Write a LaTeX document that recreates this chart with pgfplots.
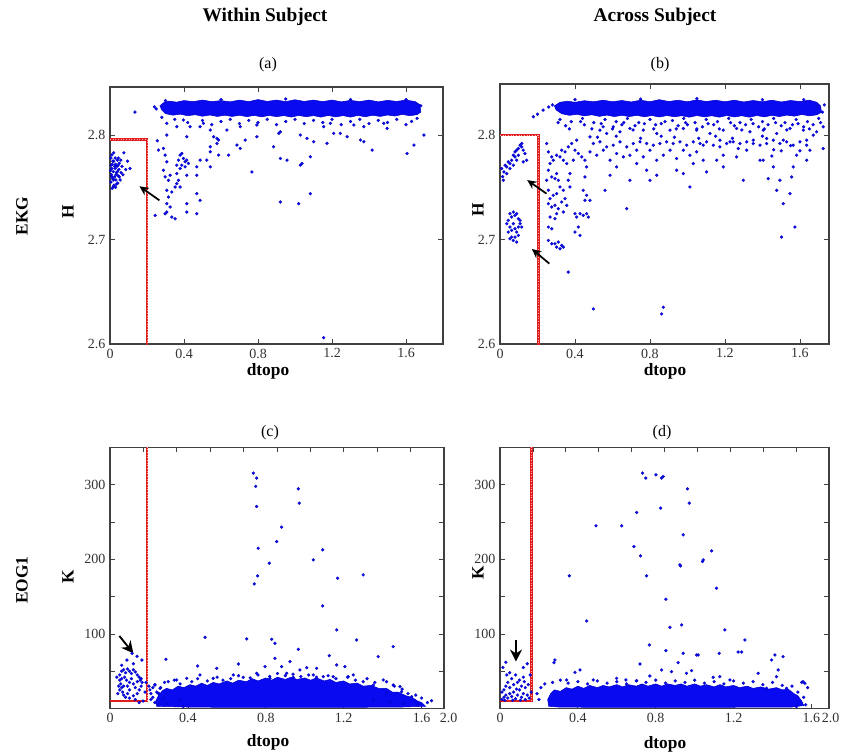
\documentclass[border=0pt]{standalone}
\usepackage{fontspec}
\setmainfont{Liberation Serif}
\usepackage{pgfplots}
\pgfplotsset{compat=1.18}
\usetikzlibrary{arrows.meta}

\definecolor{boxred}{RGB}{225,30,30}
\definecolor{dotblue}{RGB}{10,10,240}

\tikzset{
  pointer/.style={black, line width=1.3pt, -{Stealth[length=7pt,width=6.5pt]}},
  bigpointer/.style={black, line width=1.4pt, -{Stealth[length=9pt,width=9pt]}},
}

\pgfplotsset{
  panel/.style={
    anchor=south west, scale only axis, clip=true,
    axis line style={black!75, line width=0.8pt},
    tick style={black!75, line width=0.6pt},
    tick align=inside, major tick length=3.5pt,
    tick label style={font=\fontsize{10.5}{12}\selectfont, text=black!80},
    /pgf/number format/assume math mode=true,
  },
  endlabel/.style 2 args={extra x ticks={#1}, extra x tick labels={2.0},
    extra x tick style={xticklabel style={xshift=#2}}},
  dots/.style={only marks, mark=*, mark size=1.15pt,
    mark options={draw=blue!70!black, fill=dotblue, line width=0.15pt}},
  band/.style={draw=blue!80!black, line width=0.4pt, fill=dotblue},
  boxbase/.style={boxred, line width=2pt, no marks},
  boxdots/.style={red!30!white, line width=0.6pt, dash pattern=on 0.7pt off 1.3pt, no marks},
  topticks/.style={
    anchor=south west, scale only axis,
    xmin=0, xmax=10, ymin=0, ymax=1,
    xtick={1,2,3,4,5,6,7,8,9}, xticklabels={}, xtick pos=right,
    ytick=\empty, axis line style={draw=none},
    tick style={black!75, line width=0.6pt},
    tick align=inside, major tick length=3.5pt,
  },
}

\newcommand{\lbl}[1]{\fontsize{13}{15}\selectfont\bfseries #1}

\begin{document}
\begin{tikzpicture}
\useasboundingbox (0,0) rectangle (630.75pt,563.25pt);

% column and row headings
\node at (198.75pt,550.5pt) {\fontsize{14.5}{16}\selectfont\bfseries Within Subject};
\node at (491.25pt,550.5pt) {\fontsize{14.5}{16}\selectfont\bfseries Across Subject};
\node[rotate=90] at (16.5pt,401.25pt) {\lbl{EKG}};
\node[rotate=90] at (16.5pt,128.25pt) {\lbl{EOG1}};
\node at (201pt,515pt) {\fontsize{12}{14}\selectfont (a)};
\node at (495pt,515pt) {\fontsize{12}{14}\selectfont (b)};
\node at (202.5pt,239pt) {\fontsize{12}{14}\selectfont (c)};
\node at (496.5pt,239pt) {\fontsize{12}{14}\selectfont (d)};
\node[rotate=90] at (51pt,404.25pt) {\lbl{H}};
\node[rotate=90] at (358.5pt,405.75pt) {\lbl{H}};
\node[rotate=90] at (51pt,130.5pt) {\lbl{K}};
\node[rotate=90] at (358.5pt,133.5pt) {\lbl{K}};
\node at (201pt,284.5pt) {\lbl{dtopo}};
\node at (498.75pt,284.5pt) {\lbl{dtopo}};
\node at (201pt,6.5pt) {\lbl{dtopo}};
\node at (498.75pt,5pt) {\lbl{dtopo}};

% ---------------- (a) EKG, within subject ----------------
\begin{axis}[panel, at={(82.5pt,305.25pt)}, width=249.75pt, height=192.75pt,
  xmin=0, xmax=1.8, ymin=2.6, ymax=2.846,
  xtick={0,0.4,0.8,1.2,1.6}, xticklabels={0,0.4,0.8,1.2,1.6},
  ytick={2.6,2.7,2.8}, yticklabels={2.6,2.7,2.8}]
\addplot[band] coordinates {(0.27,2.828) (0.29,2.831) (0.32,2.8325) (0.36,2.8315) (0.4,2.833)
  (0.45,2.832) (0.5,2.8335) (0.55,2.832) (0.6,2.833) (0.65,2.8318) (0.7,2.8335) (0.75,2.832)
  (0.8,2.834) (0.85,2.8322) (0.9,2.8335) (0.95,2.832) (1.0,2.8338) (1.05,2.8322) (1.1,2.8335)
  (1.15,2.832) (1.2,2.8335) (1.25,2.8318) (1.3,2.8332) (1.35,2.832) (1.4,2.8335) (1.45,2.8318)
  (1.5,2.8332) (1.55,2.8322) (1.6,2.8335) (1.65,2.832) (1.675,2.829) (1.68,2.822)
  (1.66,2.8195) (1.62,2.8185) (1.58,2.8198) (1.54,2.8182) (1.5,2.8192) (1.46,2.8178)
  (1.42,2.819) (1.38,2.8175) (1.34,2.8188) (1.3,2.8172) (1.26,2.8186) (1.22,2.8174)
  (1.18,2.8188) (1.14,2.8172) (1.1,2.8186) (1.06,2.8175) (1.02,2.8188) (0.98,2.8172)
  (0.94,2.8186) (0.9,2.8176) (0.86,2.8188) (0.82,2.8174) (0.78,2.8188) (0.74,2.8176)
  (0.7,2.819) (0.66,2.8178) (0.62,2.819) (0.58,2.8178) (0.54,2.8192) (0.5,2.818)
  (0.46,2.8195) (0.42,2.8185) (0.38,2.82) (0.34,2.819) (0.3,2.8205) (0.28,2.824)} -- cycle;
\addplot[dots] coordinates {
  (0.005,2.755) (0.008,2.762) (0.01,2.768) (0.012,2.772) (0.015,2.758) (0.018,2.765)
  (0.02,2.775) (0.022,2.752) (0.025,2.760) (0.028,2.768) (0.03,2.772) (0.032,2.757)
  (0.035,2.764) (0.038,2.770) (0.04,2.776) (0.042,2.754) (0.045,2.761) (0.048,2.767)
  (0.05,2.773) (0.012,2.749) (0.018,2.751) (0.03,2.750) (0.005,2.778) (0.01,2.781)
  (0.02,2.783) (0.075,2.783) (0.065,2.770) (0.07,2.762) (0.085,2.767) (0.055,2.757)
  (0.06,2.764) (0.045,2.778) (0.035,2.753) (0.025,2.770) (0.015,2.775) (0.003,2.766)
  (0.006,2.771) (0.04,2.765) (0.05,2.76) (0.058,2.776) (0.028,2.778) (0.033,2.762)
  (0.043,2.771) (0.02,2.757) (0.01,2.760) (0.108,2.768) (0.095,2.775)
  (0.135,2.822) (0.24,2.827) (0.25,2.825)
  (0.256,2.7945) (0.262,2.7856) (0.289,2.7872) (0.298,2.7808) (0.307,2.7744) (0.289,2.7663)
  (0.298,2.760) (0.316,2.7567) (0.325,2.7615) (0.307,2.7471) (0.316,2.7407) (0.307,2.7343)
  (0.325,2.7311) (0.307,2.7263) (0.298,2.7247) (0.334,2.7215) (0.352,2.7199) (0.244,2.7231)
  (0.361,2.7712) (0.370,2.776) (0.379,2.7808) (0.388,2.7824) (0.397,2.7776) (0.406,2.7744)
  (0.415,2.776) (0.424,2.7728) (0.406,2.7696) (0.388,2.7712) (0.379,2.768) (0.361,2.7631)
  (0.370,2.7567) (0.361,2.7535) (0.379,2.7503) (0.352,2.7503) (0.334,2.7455) (0.415,2.7615)
  (0.469,2.7696) (0.469,2.7615) (0.469,2.7439) (0.487,2.7375) (0.469,2.7247) (0.415,2.7343)
  (0.415,2.7263) (0.487,2.776) (0.542,2.784) (0.542,2.7888) (0.560,2.7984) (0.578,2.7968)
  (0.587,2.7952) (0.578,2.792) (0.523,2.776) (0.542,2.7696) (0.587,2.7808) (0.641,2.7808)
  (0.686,2.7904) (0.704,2.7872) (0.731,2.7952) (0.794,2.7984) (0.884,2.7888) (0.912,2.8016)
  (0.921,2.7776) (0.957,2.776) (1.029,2.7712) (1.038,2.7728) (0.767,2.7647) (0.921,2.7359)
  (1.020,2.7343) (1.083,2.7439) (1.083,2.7792) (1.173,2.792) (1.155,2.808) (1.209,2.8016)
  (1.245,2.8016) (1.282,2.7984) (1.354,2.7952) (1.372,2.7936) (1.417,2.7856) (1.498,2.8064)
  (1.606,2.7824) (1.643,2.7904) (1.697,2.80) (0.307,2.8112) (0.307,2.80) (0.415,2.7984)
  (0.433,2.808) (0.487,2.808) (0.542,2.8048) (0.632,2.8048) (0.704,2.808) (0.794,2.8096)
  (0.921,2.8032) (1.029,2.80) (1.065,2.7968) (1.101,2.7936) (1.191,2.8112) (1.318,2.8096)
  (1.372,2.808) (1.480,2.8112) (0.361,2.808) (0.397,2.8144) (0.505,2.8112)
  (1.155,2.606)
  (0.35,2.815) (0.42,2.812) (0.5,2.814) (0.55,2.81) (0.6,2.813) (0.65,2.815) (0.7,2.811)
  (0.75,2.814) (0.8,2.812) (0.85,2.815) (0.9,2.81) (0.95,2.813) (1.0,2.815) (1.05,2.811)
  (1.1,2.814) (1.15,2.812) (1.2,2.815) (1.25,2.81) (1.3,2.813) (1.35,2.815) (1.4,2.811)
  (1.45,2.814) (1.5,2.812) (1.55,2.815) (1.6,2.81) (1.63,2.813) (1.66,2.816)
  (0.3,2.833) (0.6,2.834) (0.95,2.8345) (1.3,2.834) (1.6,2.834) (1.68,2.828) (0.28,2.817)
};
\addplot[boxbase] coordinates {(0,2.796) (0.2,2.796) (0.2,2.59)};
\addplot[boxdots] coordinates {(0,2.796) (0.2,2.796) (0.2,2.59)};
\draw[pointer] (0.267,2.7375) -- (0.159,2.751);
\end{axis}

% ---------------- (b) EKG, across subject ----------------
\begin{axis}[panel, at={(375pt,305.25pt)}, width=246.75pt, height=195pt,
  xmin=0, xmax=1.755, ymin=2.6, ymax=2.849,
  xtick={0,0.4,0.8,1.2,1.6}, xticklabels={0,0.4,0.8,1.2,1.6},
  ytick={2.6,2.7,2.8}, yticklabels={2.6,2.7,2.8}]
\addplot[band] coordinates {(0.29,2.828) (0.32,2.8315) (0.36,2.8325) (0.4,2.8315) (0.45,2.833)
  (0.5,2.832) (0.55,2.8335) (0.6,2.832) (0.65,2.8332) (0.7,2.8318) (0.75,2.8335) (0.8,2.832)
  (0.85,2.834) (0.9,2.8322) (0.95,2.8335) (1.0,2.832) (1.05,2.8338) (1.1,2.8322) (1.15,2.8335)
  (1.2,2.832) (1.25,2.8335) (1.3,2.8318) (1.35,2.8332) (1.4,2.832) (1.45,2.8335) (1.5,2.8318)
  (1.55,2.8332) (1.6,2.8322) (1.65,2.8335) (1.69,2.8315) (1.71,2.828) (1.715,2.822)
  (1.69,2.8195) (1.65,2.8185) (1.61,2.8198) (1.57,2.8182) (1.53,2.8192) (1.49,2.8178)
  (1.45,2.819) (1.41,2.8175) (1.37,2.8188) (1.33,2.8172) (1.29,2.8186) (1.25,2.8174)
  (1.21,2.8188) (1.17,2.8172) (1.13,2.8186) (1.09,2.8175) (1.05,2.8188) (1.01,2.8172)
  (0.97,2.8186) (0.93,2.8176) (0.89,2.8188) (0.85,2.8174) (0.81,2.8188) (0.77,2.8176)
  (0.73,2.819) (0.69,2.8178) (0.65,2.819) (0.61,2.8178) (0.57,2.8192) (0.53,2.818)
  (0.49,2.8195) (0.45,2.8185) (0.41,2.82) (0.37,2.819) (0.33,2.8205) (0.3,2.824)} -- cycle;
\addplot[dots] coordinates {
  (0.009,2.768) (0.014,2.7603) (0.021,2.7648) (0.027,2.7712) (0.036,2.7696) (0.044,2.7744)
  (0.053,2.7728) (0.062,2.776) (0.071,2.7808) (0.08,2.784) (0.089,2.7856) (0.098,2.7872)
  (0.107,2.7904) (0.116,2.7888) (0.124,2.7856) (0.133,2.7824) (0.08,2.7792) (0.089,2.776)
  (0.053,2.768) (0.036,2.7632) (0.018,2.7568) (0.116,2.792) (0.142,2.776) (0.124,2.7744)
  (0.071,2.7712) (0.098,2.7808)
  (0.044,2.7184) (0.053,2.7248) (0.062,2.7216) (0.071,2.7264) (0.08,2.7232) (0.089,2.7248)
  (0.098,2.72) (0.107,2.7184) (0.053,2.712) (0.062,2.7088) (0.071,2.7152) (0.08,2.7104)
  (0.089,2.7072) (0.098,2.712) (0.107,2.7152) (0.044,2.7072) (0.062,2.7024) (0.071,2.6992)
  (0.08,2.7024) (0.089,2.6976) (0.053,2.7008) (0.098,2.704) (0.036,2.7152) (0.116,2.712)
  (0.178,2.8176) (0.2,2.82) (0.23,2.824) (0.26,2.827) (0.28,2.829)
  (0.249,2.792) (0.258,2.784) (0.276,2.7792) (0.284,2.776) (0.267,2.7728) (0.258,2.7664)
  (0.276,2.76) (0.293,2.7584) (0.302,2.7632) (0.311,2.7568) (0.32,2.7504) (0.338,2.7472)
  (0.302,2.744) (0.284,2.7424) (0.267,2.7392) (0.258,2.7344) (0.276,2.7312) (0.293,2.7328)
  (0.311,2.7296) (0.329,2.736) (0.347,2.7392) (0.356,2.7328) (0.338,2.7264) (0.302,2.7248)
  (0.293,2.72) (0.258,2.712) (0.276,2.7104) (0.258,2.6992) (0.276,2.696) (0.293,2.696)
  (0.311,2.6976) (0.329,2.6944) (0.338,2.6928) (0.32,2.6912) (0.302,2.6928) (0.267,2.7216)
  (0.258,2.7472) (0.249,2.7568) (0.373,2.7504) (0.364,2.7568) (0.373,2.7632) (0.356,2.7728)
  (0.338,2.776) (0.32,2.7792) (0.302,2.7808) (0.329,2.7856) (0.347,2.784) (0.364,2.7888)
  (0.382,2.792) (0.40,2.7856) (0.418,2.7824) (0.436,2.7792) (0.453,2.776) (0.462,2.7696)
  (0.453,2.76) (0.444,2.7472) (0.462,2.7424) (0.453,2.7376) (0.48,2.7376) (0.40,2.7248)
  (0.409,2.7216) (0.427,2.7248) (0.444,2.7232) (0.462,2.7248) (0.471,2.7216) (0.418,2.712)
  (0.40,2.7072) (0.427,2.704) (0.364,2.6688) (0.498,2.6336) (0.676,2.7296) (0.80,2.7568)
  (0.836,2.7616) (0.871,2.6352) (0.862,2.6288) (0.942,2.7664) (1.031,2.7728) (1.102,2.7648)
  (1.156,2.776) (1.191,2.7808) (1.262,2.7792) (1.316,2.7856) (1.387,2.776) (1.404,2.776)
  (1.431,2.7584) (1.458,2.7696) (1.511,2.7344) (1.573,2.712) (1.547,2.744) (1.556,2.76)
  (1.582,2.7808) (1.653,2.7856) (1.724,2.7872) (1.502,2.7024) (1.564,2.7696) (1.636,2.7952)
  (1.511,2.7952) (1.422,2.7968) (1.351,2.792) (1.271,2.7872) (1.227,2.7936) (1.173,2.7888)
  (1.084,2.7904) (1.049,2.784) (1.013,2.7808) (0.978,2.7856) (0.942,2.7776) (0.907,2.7856)
  (0.871,2.7808) (0.836,2.776) (0.80,2.7856) (0.764,2.7792) (0.729,2.7856) (0.693,2.7808)
  (0.658,2.7792) (0.622,2.7824) (0.587,2.776) (0.551,2.7856) (0.516,2.7808) (0.48,2.784)
  (0.498,2.792) (0.533,2.7936) (0.569,2.7888) (0.604,2.7904) (0.64,2.7936) (0.676,2.7888)
  (0.711,2.792) (0.747,2.7936) (0.782,2.792) (0.818,2.7904) (0.853,2.792) (0.889,2.7936)
  (0.924,2.792) (0.96,2.7936) (0.996,2.7904) (1.031,2.7936) (1.067,2.792) (1.102,2.7936)
  (1.138,2.7904) (1.173,2.7952) (1.209,2.792) (1.244,2.7936) (1.28,2.792) (1.316,2.7936)
  (1.351,2.7952) (1.387,2.7904) (1.422,2.792) (1.458,2.7952) (1.493,2.792) (1.529,2.7936)
  (1.564,2.7904) (1.60,2.7936) (1.636,2.7904) (1.671,2.80)
  (0.533,2.8048) (0.569,2.8016) (0.604,2.808) (0.64,2.8032) (0.693,2.8064) (0.764,2.8048)
  (0.836,2.8016) (0.907,2.8048) (0.978,2.8064) (1.049,2.8048) (1.12,2.8016) (1.191,2.8048)
  (1.262,2.8064) (1.333,2.8032) (1.404,2.8048) (1.476,2.8016) (1.547,2.8064) (1.618,2.8048)
  (1.689,2.8032) (1.724,2.808)
  (0.48,2.7984) (0.409,2.7952) (0.391,2.776) (0.622,2.7696) (0.729,2.7728) (0.782,2.7664)
  (0.978,2.7632) (1.084,2.776) (1.191,2.7696) (1.298,2.7568) (1.476,2.7472) (1.636,2.776)
  (0.693,2.7568) (0.587,2.7616) (0.56,2.7472) (1.013,2.7504) (1.493,2.7568)
  (0.32,2.815) (0.38,2.813) (0.44,2.816) (0.5,2.812) (0.56,2.815) (0.62,2.813) (0.68,2.816)
  (0.74,2.812) (0.8,2.815) (0.86,2.811) (0.92,2.814) (0.98,2.816) (1.04,2.812) (1.1,2.815)
  (1.16,2.813) (1.22,2.816) (1.28,2.812) (1.34,2.815) (1.4,2.813) (1.46,2.816) (1.52,2.812)
  (1.58,2.815) (1.64,2.813) (1.7,2.816) (1.72,2.822) (1.69,2.827) (1.73,2.829)
  (0.35,2.809) (0.45,2.81) (0.55,2.808) (0.65,2.81) (0.72,2.809) (0.83,2.81) (0.95,2.809)
  (1.0,2.81) (1.08,2.808) (1.14,2.81) (1.25,2.809) (1.31,2.81) (1.38,2.808) (1.43,2.81)
  (1.5,2.809) (1.56,2.81) (1.62,2.808) (1.67,2.81)
  (0.31,2.812) (0.37,2.806) (0.43,2.813) (0.49,2.806) (0.54,2.811) (0.6,2.806) (0.66,2.812)
  (0.71,2.805) (0.77,2.811) (0.82,2.806) (0.88,2.813) (0.94,2.806) (0.99,2.812) (1.05,2.806)
  (1.11,2.811) (1.17,2.806) (1.23,2.812) (1.29,2.805) (1.35,2.811) (1.41,2.806) (1.47,2.812)
  (1.53,2.805) (1.59,2.811) (1.65,2.806) (1.71,2.812)
  (0.52,2.798) (0.62,2.799) (0.75,2.797) (0.86,2.799) (0.93,2.798) (1.06,2.797) (1.15,2.799)
  (1.24,2.797) (1.4,2.799) (1.46,2.786) (1.5,2.785) (1.55,2.79) (1.6,2.785) (1.45,2.78)
  (0.4,2.834) (0.75,2.8345) (1.05,2.835) (1.4,2.834) (1.62,2.834)
};
\addplot[boxbase] coordinates {(0,2.8) (0.204,2.8) (0.204,2.59)};
\addplot[boxdots] coordinates {(0,2.8) (0.204,2.8) (0.204,2.59)};
\draw[pointer] (0.248,2.744) -- (0.145,2.757);
\draw[pointer] (0.263,2.677) -- (0.17,2.691);
\end{axis}

% ---------------- (c) EOG1, within subject ----------------
\begin{axis}[panel, at={(82.5pt,31.875pt)}, width=250.5pt, height=195.75pt,
  xmin=0, xmax=1.715, ymin=0, ymax=350,
  xtick={0,0.4,0.8,1.2,1.6}, xticklabels={0,0.4,0.8,1.2,1.6}, xtick pos=left,
  endlabel={1.715}{3.5pt},
  ytick={50,100,150,200,250,300}, yticklabels={,100,,200,,300}]
\addplot[band] coordinates {(0.24,3) (0.235,10) (0.25,18) (0.27,24) (0.29,27) (0.32,25)
  (0.35,30) (0.38,28) (0.41,32) (0.44,30) (0.47,34) (0.5,31) (0.53,35) (0.56,33) (0.6,37)
  (0.63,34) (0.66,38) (0.7,36) (0.73,40) (0.76,37) (0.8,41) (0.83,38) (0.86,42) (0.9,39)
  (0.93,42) (0.96,39) (1.0,41) (1.03,38) (1.06,41) (1.1,37) (1.13,39) (1.16,35) (1.2,37)
  (1.23,33) (1.27,34) (1.3,30) (1.34,31) (1.38,27) (1.42,27) (1.45,22) (1.48,22) (1.52,17)
  (1.55,15) (1.58,10) (1.6,8) (1.62,3) (1.5,2) (1.2,1.5) (0.9,1.5) (0.6,1.5) (0.4,2)
  (0.3,2.5)} -- cycle;
\addplot[dots] coordinates {
  (0.736,315.7) (0.753,309) (0.748,297.9) (0.753,270.9) (0.761,214.9) (0.856,223.9)
  (0.881,243.2) (0.967,294.6) (0.972,275.4) (0.818,194.9) (0.758,177.9) (0.741,167.1)
  (1.044,199.3) (1.092,212.8) (1.169,174.7) (1.30,179.2) (1.092,137.6) (1.164,105.4)
  (0.488,95.5) (0.702,93.3) (0.83,92.8) (0.847,87.5) (0.967,79.4) (1.266,91.9) (1.454,83)
  (1.126,70.9) (1.377,69.6) (1.164,58.4) (0.847,67.3) (0.924,62.9) (0.287,66) (0.45,57)
  (0.548,53.9) (0.659,59.7) (0.796,56.2) (0.881,56.2) (1.01,54.8) (0.975,51.7) (1.061,53.9)
  (1.206,56.2) (1.249,45) (1.489,29.3) (1.549,15.9) (1.651,10.5) (1.454,31.5) (1.497,22.6)
  (1.352,31.5) (1.403,38.3) (0.342,38.3) (0.299,36) (0.462,45) (0.633,45) (0.753,47.2)
  (0.907,47.2) (1.044,45) (1.146,42.7) (1.223,42.7) (0.394,40.5) (0.53,40.5) (0.684,41.8)
  (0.821,40.5) (0.941,41.8) (1.095,42.7) (1.30,36) (0.257,27.1) (0.231,31.5) (0.248,20.4)
  (0.274,13.6) (0.291,6.9) (0.359,11.4) (0.376,2.5) (1.42,20.4) (1.437,9.2) (1.352,11.4)
  (1.506,6.9)
  (0.28,35) (0.33,38) (0.36,33) (0.42,36) (0.45,40) (0.5,37) (0.55,42) (0.58,38) (0.62,40)
  (0.66,44) (0.72,41) (0.76,45) (0.82,43) (0.86,47) (0.9,44) (0.94,46) (0.98,43) (1.02,45)
  (1.06,42) (1.12,44) (1.16,40) (1.22,42) (1.26,38) (1.32,40) (1.36,35) (1.42,36) (1.46,30)
  (1.5,26) (1.53,20) (1.57,18) (1.6,14) (1.63,8) (1.58,5) (0.26,28) (0.25,20) (0.22,15)
  (0.05,45) (0.06,50) (0.07,52) (0.08,48) (0.09,53) (0.1,50) (0.11,47) (0.12,52) (0.13,49)
  (0.14,45) (0.15,42) (0.16,40) (0.05,38) (0.055,33) (0.06,28) (0.065,22) (0.07,18) (0.08,15)
  (0.1,14) (0.12,17) (0.14,20) (0.15,25) (0.16,30) (0.165,35) (0.155,38) (0.045,30) (0.05,25)
  (0.09,30) (0.1,35) (0.11,40) (0.12,33) (0.085,38) (0.075,42) (0.13,28) (0.14,36) (0.07,30)
  (0.06,40) (0.1,25) (0.09,20) (0.13,12) (0.17,10) (0.15,8) (0.18,22) (0.185,35) (0.04,20)
  (0.035,42) (0.087,65) (0.113,74) (0.139,70) (0.164,65) (0.06,58) (0.12,60)
  (0.20,30) (0.205,25) (0.21,20) (0.22,28) (0.23,32) (0.24,22) (0.21,12) (0.23,8) (0.25,5)
};
\addplot[boxbase] coordinates {(0,10) (0.19,10) (0.19,360)};
\addplot[boxdots] coordinates {(0.19,10) (0.19,360)};
\draw[bigpointer] (0.048,97.3) -- (0.12,74);
\end{axis}
\begin{axis}[topticks, at={(82.5pt,31.875pt)}, width=250.5pt, height=195.75pt]
\end{axis}

% ---------------- (d) EOG1, across subject ----------------
\begin{axis}[panel, at={(375pt,31.875pt)}, width=246.75pt, height=195.75pt,
  xmin=0, xmax=1.69, ymin=0, ymax=350,
  xtick={0,0.4,0.8,1.2,1.6}, xticklabels={0,0.4,0.8,1.2,1.6}, xtick pos=left,
  endlabel={1.69}{1.2pt},
  ytick={50,100,150,200,250,300}, yticklabels={,100,,200,,300}]
\addplot[band] coordinates {(0.25,3) (0.245,12) (0.26,20) (0.28,25) (0.31,23) (0.34,28)
  (0.37,26) (0.4,30) (0.43,27) (0.46,31) (0.5,28) (0.53,31) (0.56,29) (0.6,32) (0.63,29)
  (0.66,32) (0.7,30) (0.73,33) (0.76,30) (0.8,33) (0.83,30) (0.86,33) (0.9,31) (0.93,33)
  (0.96,30) (1.0,33) (1.03,30) (1.06,32) (1.1,29) (1.13,32) (1.16,29) (1.2,31) (1.23,28)
  (1.27,30) (1.3,27) (1.34,29) (1.38,26) (1.42,28) (1.45,25) (1.48,26) (1.51,20) (1.53,17)
  (1.55,10) (1.56,4) (1.5,2) (1.0,1.5) (0.5,1.5) (0.3,2)} -- cycle;
\addplot[dots] coordinates {
  (0.732,315.7) (0.749,309) (0.801,313.4) (0.83,309) (0.838,311.2) (0.963,294.6) (0.972,275.4)
  (0.825,268.7) (0.702,262.9) (0.493,245) (0.625,245) (0.941,232.9) (0.688,217.2)
  (0.722,204.7) (1.087,211.4) (0.924,192.6) (0.927,191.3) (1.04,197.1) (1.044,199.3)
  (0.753,177.9) (0.356,177.9) (1.112,161.3) (0.852,146.5) (0.445,117.4) (0.873,108.9)
  (0.933,112.1) (1.155,105.4) (1.258,91.9) (0.767,85.2) (0.852,77.6) (0.941,74) (0.719,59.7)
  (0.915,61.5) (1.01,71.8) (1.018,71.8) (1.126,74) (1.223,75.8) (1.241,75.8) (1.412,71.8)
  (1.454,69.6) (1.395,65.1) (0.282,65.1) (0.277,61.5) (0.411,51.7) (0.385,48.5) (0.647,38.3)
  (0.702,37.4) (0.77,43.6) (0.83,51.7) (0.881,49.4) (0.984,50.8) (1.129,42.7) (1.326,47.2)
  (1.429,51.7) (1.42,42.7) (1.557,36) (1.566,33.8) (0.342,38.3) (0.479,38.3) (0.599,40.5)
  (0.958,47.2) (1.095,41.8) (1.181,38.3) (1.369,27.1) (1.472,27.1) (1.523,2.5)
  (0.2,12) (0.19,20) (0.21,28) (0.23,33) (0.27,35) (0.31,38) (0.35,34) (0.4,36) (0.45,33)
  (0.5,37) (0.55,34) (0.6,36) (0.65,33) (0.7,37) (0.75,35) (0.8,38) (0.85,34) (0.9,37)
  (0.95,35) (1.0,38) (1.05,34) (1.1,36) (1.15,33) (1.2,37) (1.25,34) (1.3,36) (1.35,32)
  (1.4,35) (1.45,31) (1.5,30) (1.53,22) (1.56,15) (1.57,5) (1.55,35) (1.58,28)
  (0.01,12) (0.02,15) (0.03,18) (0.04,14) (0.05,20) (0.06,16) (0.07,22) (0.08,13) (0.09,18)
  (0.1,25) (0.11,15) (0.12,20) (0.13,12) (0.14,18) (0.15,14) (0.02,25) (0.03,30) (0.05,28)
  (0.07,32) (0.09,35) (0.11,30) (0.13,28) (0.06,40) (0.08,45) (0.1,38) (0.04,35) (0.12,42)
  (0.01,22) (0.015,55) (0.03,62) (0.12,55) (0.14,60) (0.155,45) (0.05,48) (0.085,26)
  (0.145,32) (0.025,11) (0.065,11) (0.105,11) (0.16,22) (0.125,36) (0.035,45)
};
\addplot[boxbase] coordinates {(0,10) (0.163,10) (0.163,360)};
\addplot[boxdots] coordinates {(0.163,10) (0.163,360)};
\draw[bigpointer] (0.082,92) -- (0.082,63);
\end{axis}
\begin{axis}[topticks, at={(375pt,31.875pt)}, width=246.75pt, height=195.75pt]
\end{axis}
\end{tikzpicture}
\end{document}
